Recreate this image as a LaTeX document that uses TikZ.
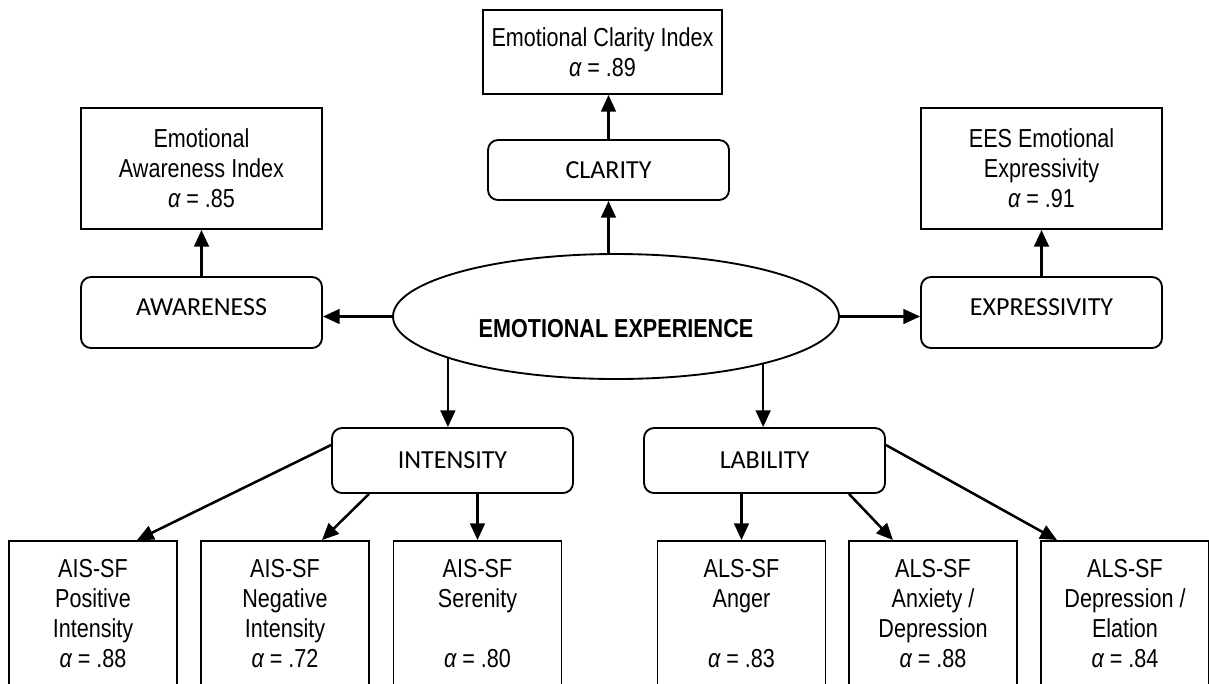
\documentclass[tikz,border=0pt]{standalone}
\usepackage{fontspec}
\setmainfont{Liberation Sans}[FakeStretch=0.83]
\newfontfamily\capsfont{Carlito}
\usetikzlibrary{arrows.meta,shapes.geometric,calc}
\newcommand{\alp}{{\itshape α}}

\tikzset{
  sz/.style 2 args={minimum width=#1*0.75pt,minimum height=#2*0.75pt},
  measure/.style={draw=black,line width=1.4pt,rectangle,inner sep=0pt,align=center,
    font=\fontsize{19.5}{22.5}\selectfont},
  factor/.style={draw=black,line width=1.4pt,rectangle,rounded corners=7.5pt,inner sep=0pt,
    font=\capsfont\fontsize{19.5}{22.5}\selectfont,text height=12.5pt,text depth=0pt},
  latent/.style={draw=black,line width=1.4pt,ellipse,inner sep=0pt,
    font=\bfseries\fontsize{19.5}{22.5}\selectfont,text height=30.75pt,text depth=0pt},
  leafbox/.style={draw=black,line width=1.4pt,rectangle,inner sep=0pt,sz={168}{159}},
  leaftext/.style={anchor=north,inner sep=0pt,align=center,
    font=\fontsize{19.5}{22.5}\selectfont},
  arr/.style={line width=1.9pt,-{Triangle[length=12.5pt,width=11pt]}},
}

\begin{document}
\begin{tikzpicture}[x=0.75pt,y=-0.75pt]
\useasboundingbox (0,0) rectangle (1209,683);
\clip (0,0) rectangle (1209,683);

% central latent construct
\node[latent,sz={446}{125}] (ee) at (616,316.5) {EMOTIONAL EXPERIENCE};

% first-order facets
\node[factor,sz={241}{60}] (cla) at (608.5,170) {CLARITY};
\node[factor,sz={241}{71},text depth=8.2pt] (aw) at (201.5,312.5) {AWARENESS};
\node[factor,sz={241}{71},text depth=8.2pt] (ex) at (1041.5,312.5) {EXPRESSIVITY};
\node[factor,sz={241}{65}] (int) at (452.5,460.5) {INTENSITY};
\node[factor,sz={241}{65}] (lab) at (764.5,460.5) {LABILITY};

% upper indicator scales
\node[measure,sz={239}{84}] (cidx) at (602.5,52) {Emotional Clarity Index\\\alp{} = .89};
\node[measure,sz={241}{121}] (aidx) at (201.5,168.5) {Emotional\\Awareness Index\\\alp{} = .85};
\node[measure,sz={241}{121}] (eidx) at (1041.5,168.5) {EES Emotional\\Expressivity\\\alp{} = .91};

% lower indicator scales
\node[leafbox] (pos) at (93,620.5) {};
\node[leafbox] (neg) at (285,620.5) {};
\node[leafbox] (ser) at (477.5,620.5) {};
\node[leafbox] (ang) at (741.5,620.5) {};
\node[leafbox] (anx) at (933,620.5) {};
\node[leafbox] (dep) at (1125,620.5) {};

\node[leaftext] (posT) at ($(pos.north)+(0,19)$) {AIS-SF\\Positive\\Intensity\\\alp{} = .88};
\node[leaftext] (negT) at ($(neg.north)+(0,19)$) {AIS-SF\\Negative\\Intensity\\\alp{} = .72};
\node[leaftext] (serT) at ($(ser.north)+(0,19)$) {AIS-SF\\Serenity\\[22.5pt]\alp{} = .80};
\node[leaftext] (angT) at ($(ang.north)+(0,19)$) {ALS-SF\\Anger\\[22.5pt]\alp{} = .83};
\node[leaftext] (anxT) at ($(anx.north)+(0,19)$) {ALS-SF\\Anxiety /\\Depression\\\alp{} = .88};
\node[leaftext] (depT) at ($(dep.north)+(0,19)$) {ALS-SF\\Depression /\\Elation\\\alp{} = .84};

% paths
\draw[arr] (cla.south |- ee.north) -- (cla.south);
\draw[arr] (cla.north) -- (cla.north |- cidx.south);
\draw[arr] (aw.north) -- (aidx.south);
\draw[arr] (ex.north) -- (eidx.south);
\draw[arr] (ee.west) -- (ee.west -| aw.east);
\draw[arr] (ee.east) -- (ee.east -| ex.west);
\draw[arr] (ee.194) -- (ee.194 |- int.north);
\draw[arr] (ee.342) -- (ee.342 |- lab.north);
\draw[arr] ($(int.west)+(0,-15.5)$) -- ($(pos.north)+(44,0)$);
\draw[arr] ($(int.south)+(-83.5,0)$) -- ($(neg.north)+(37,0)$);
\draw[arr] (ser.north |- int.south) -- (ser.north);
\draw[arr] (ang.north |- lab.south) -- (ang.north);
\draw[arr] ($(lab.south)+(84.5,0)$) -- ($(anx.north)+(-40,0)$);
\draw[arr] ($(lab.east)+(0,-15.5)$) -- ($(dep.north)+(-68,0)$);
\end{tikzpicture}
\end{document}
